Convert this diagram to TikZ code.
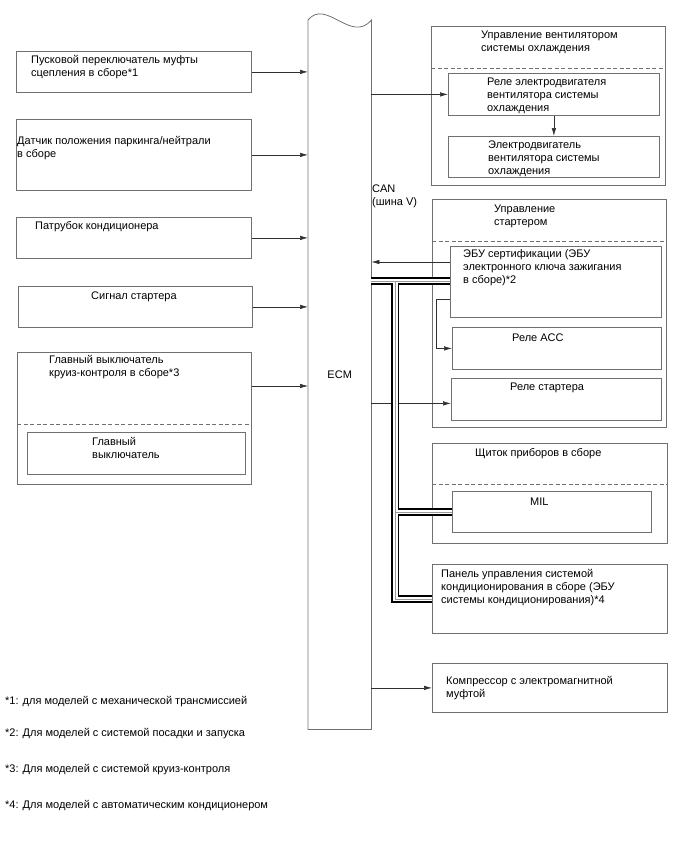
\documentclass[tikz,border=0pt]{standalone}
\usepackage{fontspec}
\setmainfont{Liberation Sans}
\usepackage{tikz}
\usetikzlibrary{arrows.meta,positioning,calc}
\definecolor{Edge}{HTML}{707070}
\definecolor{Wire}{HTML}{303030}
\definecolor{BusMid}{HTML}{9A9A9A}
\newcommand{\lbl}{\fontsize{11}{13}\selectfont}
\tikzset{
  box/.style 2 args={draw=Edge,line width=0.8pt,anchor=north west,inner sep=0pt,
              minimum width=#1,minimum height=#2},
  txt/.style={font=\lbl,align=left,inner sep=0pt},
  sig/.style={-{Latex[length=8pt,width=4.5pt]},draw=Wire,line width=0.6pt},
  divider/.style={draw=Edge,line width=0.7pt,dash pattern=on 4pt off 2.5pt}
}

\begin{document}
\begin{tikzpicture}[x=1pt,y=-1pt]
  \useasboundingbox (0,0) rectangle (688,852);

  % ECM column
  \node[minimum width=63,minimum height=709,anchor=north west,inner sep=0pt,font=\lbl] (ecm) at (308,20) {ECM};
  \draw[draw=Edge,line width=0.8pt] (ecm.north west) .. controls +(18,-22) and +(-20,24) .. (ecm.north east)
    -- (ecm.south east) -- (ecm.south west) -- cycle;

  % inputs
  \node[box={235}{41}] (clutch) at (16,51) {};
  \node[txt,below right=4pt and 15pt of clutch.north west] (clutchtxt) {Пусковой переключатель муфты\\сцепления в сборе*1};
  \node[box={235}{71}] (pnp) at (16,119) {};
  \node[txt,below right=17pt and 1pt of pnp.north west] (pnptxt) {Датчик положения паркинга/нейтрали\\в сборе};
  \node[box={235}{41}] (pipe) at (16,217) {};
  \node[txt,below right=4pt and 19pt of pipe.north west] (pipetxt) {Патрубок кондиционера};
  \node[box={234}{41}] (stsig) at (18,286) {};
  \node[txt,below right=6pt and 73pt of stsig.north west] (stsigtxt) {Сигнал стартера};
  \node[box={234}{132}] (cruise) at (17,352) {};
  \node[txt,below right=3pt and 32pt of cruise.north west] (cruisetxt) {Главный выключатель\\круиз-контроля в сборе*3};
  \node[box={218}{42}] (crmain) at (27,432) {};
  \node[txt,below right=5pt and 65pt of crmain.north west] (crmaintxt) {Главный\\выключатель};
  \draw[divider] ([yshift=-72pt]cruise.north west) -- ([yshift=-72pt]cruise.north east);

  % cooling fan
  \node[box={234}{159}] (fan) at (431,26) {};
  \node[txt,below right=5pt and 50pt of fan.north west] (fantxt) {Управление вентилятором\\системы охлаждения};
  \draw[divider] ([yshift=-42pt]fan.north west) -- ([yshift=-42pt]fan.north east);
  \node[box={211}{42}] (fanrel) at (448,73) {};
  \node[txt,below right=5pt and 39pt of fanrel.north west] (fanreltxt) {Реле электродвигателя\\вентилятора системы\\охлаждения};
  \node[box={211}{41}] (fanmot) at (448,136) {};
  \node[txt,below right=5pt and 40pt of fanmot.north west] (fanmottxt) {Электродвигатель\\вентилятора системы\\охлаждения};

  \node[txt,anchor=north west] (canlbl) at (372,185) {CAN\\(шина V)};

  % starter control
  \node[box={234}{228}] (stctl) at (432,199) {};
  \node[txt,below right=6pt and 62pt of stctl.north west] (stctltxt) {Управление\\стартером};
  \draw[divider] ([yshift=-42pt]stctl.north west) -- ([yshift=-42pt]stctl.north east);
  \node[box={211}{71}] (ebu) at (450,246) {};
  \node[txt,below right=3pt and 13pt of ebu.north west] (ebutxt) {ЭБУ сертификации (ЭБУ\\электронного ключа зажигания\\в сборе)*2};
  \node[box={209}{42}] (acc) at (452,327) {};
  \node[txt,below right=7pt and 60pt of acc.north west] (acctxt) {Реле ACC};
  \node[box={210}{42}] (strel) at (451,378) {};
  \node[txt,below right=5pt and 59pt of strel.north west] (streltxt) {Реле стартера};

  % meter
  \node[box={235}{100}] (meter) at (432,443) {};
  \node[txt,below right=5pt and 43pt of meter.north west] (metertxt) {Щиток приборов в сборе};
  \draw[divider] ([yshift=-41pt]meter.north west) -- ([yshift=-41pt]meter.north east);
  \node[box={199}{41}] (mil) at (452,491) {};
  \node[txt,below right=7pt and 78pt of mil.north west] (miltxt) {MIL};

  \node[box={235}{69}] (acpanel) at (432,564) {};
  \node[txt,below right=5pt and 9pt of acpanel.north west] (acpaneltxt) {Панель управления системой\\кондиционирования в сборе (ЭБУ\\системы кондиционирования)*4};
  \node[box={235}{49}] (comp) at (432,663) {};
  \node[txt,below right=13pt and 14pt of comp.north west] (comptxt) {Компрессор с электромагнитной\\муфтой};

  % footnotes
  \node[txt,anchor=north west] (fn1) at (5,696) {*1: для моделей с механической трансмиссией};
  \node[txt,anchor=north west] (fn2) at (5,728) {*2: Для моделей с системой посадки и запуска};
  \node[txt,anchor=north west] (fn3) at (5,764) {*3: Для моделей с системой круиз-контроля};
  \node[txt,anchor=north west] (fn4) at (5,800) {*4: Для моделей с автоматическим кондиционером};

  % signals
  \draw[sig] (clutch.east) -- (clutch.east -| ecm.west);
  \draw[sig] (pnp.east) -- (pnp.east -| ecm.west);
  \draw[sig] (pipe.east) -- (pipe.east -| ecm.west);
  \draw[sig] (stsig.east) -- (stsig.east -| ecm.west);
  \draw[sig] ([yshift=-34pt]cruise.north east) -- ([yshift=-34pt]cruise.north east -| ecm.west);
  \draw[sig] (ecm.east |- fanrel.west) -- (fanrel.west);
  \draw[sig] (fanrel.south) -- (fanmot.north);
  \draw[sig] ([yshift=-16pt]ebu.north west) -- ([yshift=-16pt]ebu.north west -| ecm.east);
  \draw[sig] ([yshift=-53pt]ebu.north west) -- ++(-14,0) |- (acc.west);
  \draw[sig] ([yshift=-4pt]ecm.east |- strel.west) -- ([yshift=-4pt]strel.west);
  \draw[sig] (ecm.east |- comp.west) -- (comp.west);

  % CAN bus
  \coordinate (canR) at ([yshift=-35pt]ebu.north west);
  \coordinate (canL) at (canR -| ecm.east);
  \coordinate (canT) at ($(canL)+(24,0)$);
  \coordinate (canM) at (canT |- mil.west);
  \coordinate (canB) at (canT |- acpanel.west);
  \foreach \w/\c in {8pt/black,4.6pt/white,0.5pt/BusMid}
    \draw[line width=\w,draw=\c] (canL) -- (canR) (canT) -- (canB) -- (acpanel.west) (canM) -- (mil.west);
\end{tikzpicture}
\end{document}
